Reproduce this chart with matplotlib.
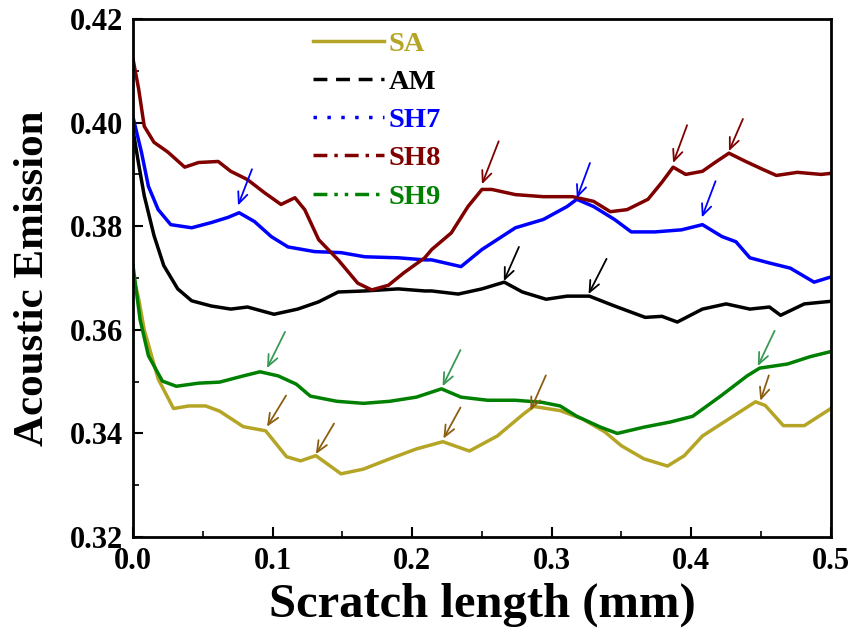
import numpy as np
from matplotlib import pyplot as plt
from matplotlib.lines import Line2D

plt.rcParams['font.family'] = ['Liberation Serif', 'DejaVu Serif']
plt.rcParams['font.weight'] = 'bold'

# SA
x_sa = [0, 0.004, 0.008, 0.018, 0.029, 0.040, 0.052, 0.062, 0.079, 0.095, 0.110, 0.120,
        0.131, 0.149, 0.165, 0.184, 0.203, 0.222, 0.241, 0.261, 0.280, 0.287, 0.306, 0.322,
        0.338, 0.350, 0.366, 0.383, 0.395, 0.408, 0.427, 0.446, 0.453, 0.466, 0.481, 0.500]
y_sa = [0.3705, 0.3660, 0.3600, 0.3505, 0.3448, 0.3453, 0.3453, 0.3443, 0.3413, 0.3405,
        0.3355, 0.3347, 0.3357, 0.3322, 0.3331, 0.3351, 0.3370, 0.3384, 0.3366, 0.3395,
        0.3438, 0.3452, 0.3444, 0.3428, 0.3403, 0.3376, 0.3351, 0.3337, 0.3357, 0.3395,
        0.3428, 0.3461, 0.3454, 0.3415, 0.3415, 0.3448]

# AM
x_am = [0, 0.004, 0.008, 0.015, 0.022, 0.032, 0.042, 0.056, 0.070, 0.082, 0.101, 0.118,
        0.133, 0.147, 0.166, 0.190, 0.209, 0.214, 0.233, 0.250, 0.266, 0.279, 0.296, 0.311,
        0.327, 0.345, 0.367, 0.379, 0.390, 0.408, 0.425, 0.442, 0.456, 0.464, 0.481, 0.500]
y_am = [0.3985, 0.3920, 0.3859, 0.3782, 0.3724, 0.3679, 0.3656, 0.3646, 0.3640, 0.3644,
        0.3630, 0.3640, 0.3654, 0.3673, 0.3675, 0.3679, 0.3675, 0.3675, 0.3669, 0.3679,
        0.3692, 0.3673, 0.3659, 0.3665, 0.3665, 0.3646, 0.3624, 0.3626, 0.3615, 0.3640,
        0.3650, 0.3640, 0.3644, 0.3628, 0.3650, 0.3655]

# SH7
x_sh7 = [0, 0.006, 0.011, 0.018, 0.027, 0.042, 0.056, 0.068, 0.076, 0.087, 0.099, 0.111,
         0.130, 0.149, 0.166, 0.190, 0.209, 0.214, 0.235, 0.250, 0.274, 0.294, 0.311, 0.318,
         0.330, 0.345, 0.357, 0.374, 0.393, 0.408, 0.422, 0.432, 0.442, 0.456, 0.471, 0.488, 0.500]
y_sh7 = [0.4010, 0.3943, 0.3877, 0.3832, 0.3803, 0.3797, 0.3807, 0.3817, 0.3826, 0.3809,
         0.3780, 0.3760, 0.3751, 0.3749, 0.3741, 0.3739, 0.3735, 0.3735, 0.3722, 0.3755,
         0.3797, 0.3813, 0.3838, 0.3852, 0.3838, 0.3813, 0.3789, 0.3789, 0.3793, 0.3803,
         0.3780, 0.3770, 0.3739, 0.3729, 0.3719, 0.3692, 0.3702]

# SH8
x_sh8 = [0, 0.004, 0.008, 0.015, 0.025, 0.037, 0.047, 0.061, 0.070, 0.082, 0.094, 0.106,
         0.116, 0.123, 0.133, 0.147, 0.161, 0.171, 0.183, 0.194, 0.209, 0.214, 0.228, 0.240,
         0.250, 0.257, 0.274, 0.294, 0.315, 0.330, 0.342, 0.354, 0.369, 0.379, 0.387, 0.396,
         0.408, 0.417, 0.427, 0.439, 0.451, 0.461, 0.476, 0.493, 0.500]
y_sh8 = [0.4122, 0.4065, 0.3993, 0.3962, 0.3943, 0.3914, 0.3923, 0.3925, 0.3906, 0.3890,
         0.3865, 0.3842, 0.3855, 0.3832, 0.3774, 0.3735, 0.3690, 0.3677, 0.3686, 0.3710,
         0.3739, 0.3755, 0.3787, 0.3838, 0.3871, 0.3871, 0.3861, 0.3857, 0.3857, 0.3848,
         0.3828, 0.3832, 0.3852, 0.3885, 0.3914, 0.3900, 0.3906, 0.3923, 0.3941, 0.3925,
         0.3910, 0.3898, 0.3904, 0.3900, 0.3902]

# SH9
x_sh9 = [0, 0.005, 0.011, 0.021, 0.031, 0.047, 0.062, 0.079, 0.091, 0.104, 0.117, 0.127,
         0.146, 0.165, 0.184, 0.203, 0.221, 0.235, 0.254, 0.274, 0.293, 0.306, 0.318, 0.335,
         0.347, 0.366, 0.385, 0.401, 0.421, 0.440, 0.449, 0.469, 0.485, 0.500]
y_sh9 = [0.3723, 0.3620, 0.3550, 0.3501, 0.3491, 0.3497, 0.3499, 0.3511, 0.3519, 0.3511,
         0.3495, 0.3472, 0.3462, 0.3458, 0.3462, 0.3470, 0.3486, 0.3470, 0.3464, 0.3464,
         0.3460, 0.3453, 0.3433, 0.3412, 0.3400, 0.3412, 0.3422, 0.3433, 0.3472, 0.3511,
         0.3526, 0.3534, 0.3548, 0.3558]

names = ['SA', 'AM', 'SH7', 'SH8', 'SH9']
colors = ['#B5A526', '#000000', '#0000FF', '#800000', '#008000']
legend_styles = ['-', (0, (4, 2.5)), (0, (1, 3)), (0, (4, 2, 1, 2)), (0, (4, 2, 1, 2, 1, 2))]

x_ticks = [0.0, 0.1, 0.2, 0.3, 0.4, 0.5]
y_ticks = [0.32, 0.34, 0.36, 0.38, 0.40, 0.42]

# arrows: (tip x, tip y, tail x, tail y)
arrows_sh7 = [(0.0752, 0.3840, 0.0852, 0.3910), (0.318, 0.3854, 0.3274, 0.3922),
              (0.4076, 0.3817, 0.4174, 0.3887)]
arrows_sh8 = [(0.250, 0.3881, 0.262, 0.3964), (0.387, 0.3922, 0.397, 0.3995),
              (0.427, 0.3945, 0.437, 0.4007)]
arrows_am = [(0.2657, 0.3694, 0.2765, 0.3760), (0.3264, 0.3669, 0.3393, 0.3737)]
arrows_sh9 = [(0.096, 0.3526, 0.1089, 0.3596), (0.2218, 0.3491, 0.2346, 0.3561),
              (0.4477, 0.3530, 0.4597, 0.3598)]
arrows_sa = [(0.096, 0.3413, 0.1096, 0.3473), (0.131, 0.3360, 0.1440, 0.3419),
             (0.2224, 0.3390, 0.2346, 0.3450), (0.2847, 0.3444, 0.2958, 0.3512),
             (0.4495, 0.3463, 0.4556, 0.3512)]

fig, ax = plt.subplots(figsize=(8.53, 6.34), dpi=100)
fig.subplots_adjust(left=0.156, right=0.974, top=0.970, bottom=0.153)

series = [(x_sa, y_sa), (x_am, y_am), (x_sh7, y_sh7), (x_sh8, y_sh8), (x_sh9, y_sh9)]
for (xs, ys), c in zip(series, colors):
    ax.plot(xs, ys, color=c, lw=2.5, solid_joinstyle='round')

arrow_groups = [(arrows_sh7, '#0000FF'), (arrows_sh8, '#800000'), (arrows_am, '#000000'),
                (arrows_sh9, '#3A9A55'), (arrows_sa, '#8B5E10')]
for arr, c in arrow_groups:
    for tx, ty, sx, sy in arr:
        ax.annotate('', xy=(tx, ty), xytext=(sx, sy),
                    arrowprops=dict(arrowstyle='->,head_length=0.8,head_width=0.35',
                                    color=c, lw=1.3, shrinkA=0, shrinkB=0))

ax.set_xlim(0, 0.5)
ax.set_ylim(0.32, 0.42)
ax.set_xticks(x_ticks)
ax.set_xticklabels([f'{v:.1f}' for v in x_ticks])
ax.set_xticks([0.05, 0.15, 0.25, 0.35, 0.45], minor=True)
ax.set_yticks(y_ticks)
ax.set_yticklabels([f'{v:.2f}' for v in y_ticks])
ax.set_yticks([0.33, 0.35, 0.37, 0.39, 0.41], minor=True)
ax.tick_params(which='major', direction='in', length=7, width=1.5, labelsize=22, pad=7)
ax.tick_params(which='minor', direction='in', length=4, width=1.2)
for lab in ax.get_xticklabels() + ax.get_yticklabels():
    lab.set_fontweight('bold')
for s in ax.spines.values():
    s.set_linewidth(2)

ax.set_xlabel('Scratch length (mm)', fontsize=35, fontweight='bold', labelpad=5)
ax.set_ylabel('Acoustic Emission', fontsize=31, fontweight='bold', labelpad=13)

handles = [Line2D([], [], color=c, lw=2.5, linestyle=ls) for c, ls in zip(colors, legend_styles)]
leg = ax.legend(handles, names, loc='upper left', bbox_to_anchor=(0.258, 0.977),
                frameon=False, handlelength=2.5, handletextpad=0.15,
                labelspacing=0.43, borderpad=0, borderaxespad=0,
                prop={'weight': 'bold', 'size': 20.5})
for txt, c in zip(leg.get_texts(), colors):
    txt.set_color(c)

plt.savefig('out.png', dpi=100)
